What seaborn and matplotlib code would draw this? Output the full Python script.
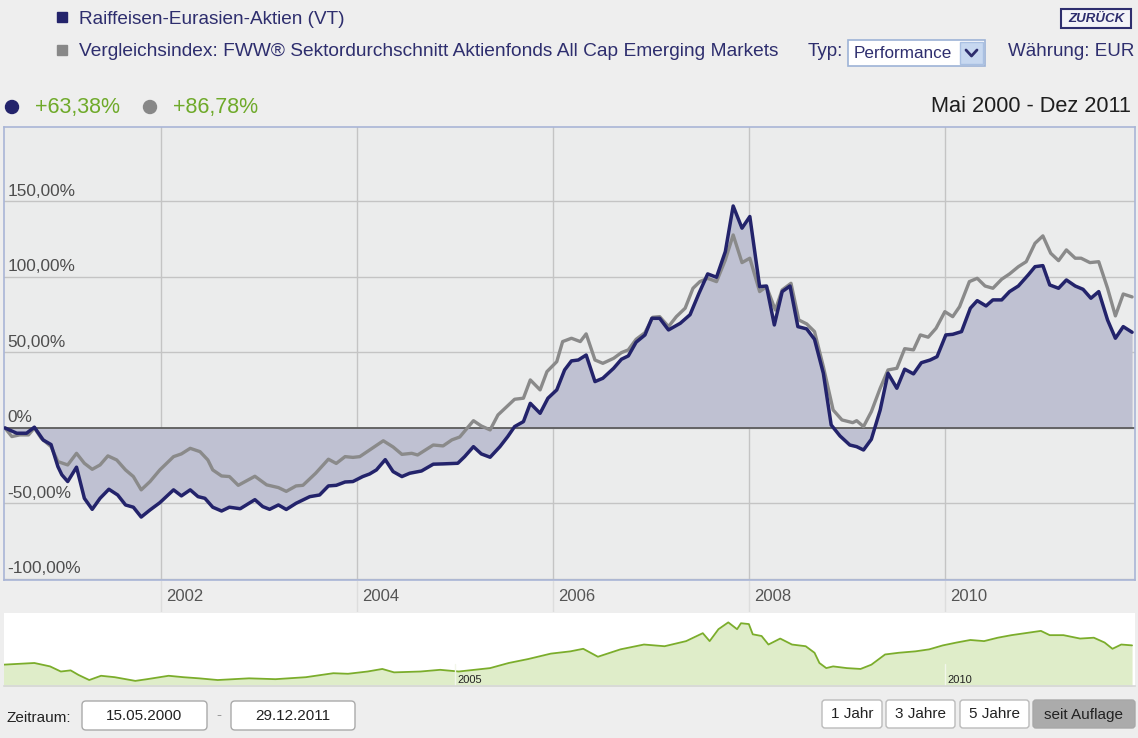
import matplotlib
matplotlib.use('Agg')
import matplotlib.pyplot as plt
import seaborn as sns
import pandas as pd
from matplotlib.patches import Rectangle, Circle, FancyBboxPatch

# fund performance in % since launch (decimal years)
fund_years = [2000.41, 2000.53, 2000.63, 2000.71, 2000.80, 2000.88, 2000.95, 2000.99,
              2001.05, 2001.14, 2001.22, 2001.30, 2001.38, 2001.47, 2001.56, 2001.64, 2001.72, 2001.80, 2001.89, 2001.99,
              2002.13, 2002.21, 2002.30, 2002.38, 2002.45, 2002.53, 2002.62, 2002.70, 2002.81, 2002.96,
              2003.04, 2003.11, 2003.20, 2003.28, 2003.38, 2003.52, 2003.62, 2003.71, 2003.79, 2003.88, 2003.96,
              2004.06, 2004.13, 2004.20, 2004.29, 2004.37, 2004.46, 2004.54, 2004.66, 2004.78, 2004.88,
              2005.03, 2005.10, 2005.19, 2005.27, 2005.36, 2005.46, 2005.54, 2005.61, 2005.70, 2005.77, 2005.87, 2005.95,
              2006.04, 2006.12, 2006.19, 2006.26, 2006.34, 2006.43, 2006.51, 2006.62, 2006.70, 2006.77, 2006.85, 2006.94,
              2007.01, 2007.09, 2007.18, 2007.30, 2007.40, 2007.49, 2007.58, 2007.67, 2007.76, 2007.84, 2007.93,
              2008.01, 2008.11, 2008.18, 2008.26, 2008.34, 2008.42, 2008.50, 2008.59, 2008.67, 2008.76, 2008.84, 2008.93,
              2009.03, 2009.10, 2009.17, 2009.25, 2009.34, 2009.42, 2009.51, 2009.59, 2009.68, 2009.76, 2009.85, 2009.92,
              2010.01, 2010.08, 2010.17, 2010.26, 2010.33, 2010.42, 2010.49, 2010.58, 2010.66, 2010.75, 2010.85, 2010.92,
              2011.00, 2011.07, 2011.16, 2011.24, 2011.33, 2011.41, 2011.49, 2011.57, 2011.66, 2011.74, 2011.82, 2011.91]
fund_perf = [0, -3.5, -3.5, 0.5, -8, -11, -25.6, -31,
             -35.5, -26, -46.6, -53.9, -46.6, -40.6, -44.4, -51, -52.5, -59, -54.3, -49.5,
             -41, -45, -41, -45.5, -46.6, -52.5, -55, -52.5, -53.5, -47.5,
             -52.1, -53.9, -51, -54, -49.9, -45.5, -44.4, -38.4, -38, -35.8, -35.5,
             -32.2, -30.5, -27.8, -21, -28.9, -32.2, -30, -28.5, -24, -23.8,
             -23.4, -19, -12.4, -17.2, -19.4, -12.4, -5.7, 0.9, 4.2, 16.3, 9.7, 19.7,
             25.2, 38.4, 44.4, 45, 48.3, 30.7, 32.9, 39.5, 45.5, 47.7, 56.8, 61.6,
             72.6, 72.6, 64.9, 69.3, 75, 89, 102, 99.8, 116.8, 147, 132.3,
             140, 93.6, 94, 68.2, 90.3, 94, 67.1, 65.6, 58.7, 36.2, 2, -5.3,
             -11.3, -12.4, -14.6, -7.5, 11.9, 36.2, 26.3, 38.9, 35.8, 43.2, 45, 47.2,
             61.6, 62, 63.8, 79.3, 84.3, 80.8, 84.8, 84.8, 90.3, 94, 101.3, 106.8,
             107.5, 94.7, 92.5, 98, 94, 91.8, 85.9, 90.3, 71.5, 59.4, 67.1, 63.38]

# comparison index (sector average)
index_years = [2000.41, 2000.48, 2000.56, 2000.65, 2000.71, 2000.78, 2000.88, 2000.95,
               2001.05, 2001.14, 2001.22, 2001.30, 2001.38, 2001.46, 2001.55, 2001.64, 2001.72, 2001.80, 2001.89, 2001.99,
               2002.13, 2002.21, 2002.30, 2002.40, 2002.48, 2002.53, 2002.62, 2002.70, 2002.79, 2002.96,
               2003.08, 2003.20, 2003.28, 2003.38, 2003.45, 2003.58, 2003.71, 2003.79, 2003.88, 2003.96,
               2004.03, 2004.13, 2004.27, 2004.37, 2004.46, 2004.56, 2004.62, 2004.78, 2004.88, 2004.97,
               2005.05, 2005.19, 2005.27, 2005.36, 2005.44, 2005.53, 2005.61, 2005.70, 2005.77, 2005.87, 2005.94,
               2006.04, 2006.10, 2006.19, 2006.28, 2006.34, 2006.43, 2006.51, 2006.62, 2006.70, 2006.77, 2006.85, 2006.94,
               2007.02, 2007.09, 2007.18, 2007.26, 2007.35, 2007.43, 2007.50, 2007.58, 2007.67, 2007.76, 2007.84, 2007.93,
               2008.01, 2008.11, 2008.18, 2008.27, 2008.34, 2008.43, 2008.51, 2008.59, 2008.67, 2008.76, 2008.86, 2008.95,
               2009.06, 2009.10, 2009.17, 2009.25, 2009.34, 2009.42, 2009.51, 2009.59, 2009.68, 2009.75, 2009.83, 2009.91,
               2010.00, 2010.08, 2010.15, 2010.25, 2010.33, 2010.41, 2010.49, 2010.58, 2010.66, 2010.75, 2010.83, 2010.92,
               2011.00, 2011.08, 2011.16, 2011.24, 2011.33, 2011.39, 2011.48, 2011.57, 2011.66, 2011.74, 2011.82, 2011.91]
index_perf = [0, -5.7, -4.6, -4.6, 0, -6.8, -12.4, -22.3,
              -24.5, -16.8, -23.4, -27.4, -24.5, -18.5, -21.2, -27.8, -32.2, -41, -35.5, -27.8,
              -19, -17.2, -13.5, -15.7, -21.2, -27.8, -31.8, -32.2, -38, -32,
              -37.7, -39.5, -42, -38.4, -38, -30, -20.7, -23.5, -19, -19.5,
              -19, -14.6, -8.5, -12.6, -17.5, -16.8, -17.9, -11.3, -11.9, -7.9,
              -6, 4.8, 1.3, -1.3, 8.6, 14.1, 19, 19.7, 31.8, 25.2, 37.3,
              43.9, 57.2, 59.4, 57.2, 62.3, 45, 42.8, 46.1, 49.9, 51.7, 58.7, 63.1,
              73.3, 73.7, 67.1, 73.7, 79.3, 92.5, 96.9, 99.1, 96.9, 111.3, 127.8, 109.5,
              112.4, 90.3, 93.6, 78.1, 91.4, 95.8, 71.5, 68.9, 63.8, 40.6, 11.9, 5.3,
              3.5, 4.8, 0.9, 10.8, 26.3, 38.4, 39.5, 52.5, 51.7, 61.6, 60.1, 66,
              77, 73.7, 80.3, 96.9, 99.1, 94, 92.5, 98.5, 102, 106.8, 110.1, 122.3,
              127.2, 115.7, 110.8, 117.9, 112.4, 112.4, 109.5, 110.1, 92.5, 74.2, 88.7, 86.78]

# navigator (overview) series
nav_years = [2000.39, 2000.71, 2000.87, 2000.98, 2001.08, 2001.16, 2001.27, 2001.39, 2001.53, 2001.74, 2001.86,
             2002.08, 2002.23, 2002.39, 2002.58, 2002.90, 2003.17, 2003.48, 2003.76, 2003.91,
             2004.11, 2004.26, 2004.38, 2004.65, 2004.85, 2005.04, 2005.36, 2005.55, 2005.75, 2005.98,
             2006.18, 2006.31, 2006.46, 2006.69, 2006.93, 2007.14, 2007.36, 2007.53, 2007.60, 2007.69,
             2007.79, 2007.88, 2007.92, 2008.00, 2008.04, 2008.13, 2008.20, 2008.32, 2008.44, 2008.58,
             2008.67, 2008.72, 2008.79, 2008.86, 2009.00, 2009.14, 2009.25, 2009.39, 2009.53, 2009.70,
             2009.84, 2009.98, 2010.12, 2010.26, 2010.40, 2010.54, 2010.68, 2010.86, 2010.98, 2011.07,
             2011.21, 2011.38, 2011.52, 2011.63, 2011.71, 2011.80, 2011.91]
nav_perf = [0, 6, -6, -24, -20, -36, -54, -39, -44, -57, -51,
            -39, -44, -48, -54, -48, -51, -44, -30, -32,
            -24, -15, -27, -24, -18, -24, -12, 6, 20, 39,
            47, 56, 28, 54, 71, 65, 83, 111, 83, 125,
            149, 125, 146, 143, 107, 101, 71, 92, 71, 65,
            42, 6, -12, -6, -12, -15, 0, 36, 42, 47,
            54, 68, 78, 87, 83, 95, 104, 113, 119, 104,
            104, 92, 95, 78, 56, 71, 68]

year_ticks = [2002, 2004, 2006, 2008, 2010]
nav_ticks = [2005, 2010]
perf_ticks = [-100, -50, 0, 50, 100, 150]
perf_labels = ['-100,00%', '-50,00%', '0%', '50,00%', '100,00%', '150,00%']

fund_name = 'Raiffeisen-Eurasien-Aktien (VT)'
index_name = 'Vergleichsindex: FWW® Sektordurchschnitt Aktienfonds All Cap Emerging Markets'
fund_total = '+63,38%'
index_total = '+86,78%'
period = 'Mai 2000 - Dez 2011'
date_from = '15.05.2000'
date_to = '29.12.2011'
buttons = ['1 Jahr', '3 Jahre', '5 Jahre', 'seit Auflage']

NAVY = '#23236B'
GREY = '#8A8A8A'
FILL = '#BFC1D2'
GREEN = '#6FAA2A'
TXT = '#2E2E6E'
PAGE = '#EEEEEE'

sns.set_theme(style='white')
plt.rcParams['font.family'] = ['Liberation Sans', 'DejaVu Sans']

W, H = 1138, 738
fig = plt.figure(figsize=(W / 100, H / 100), dpi=100)
fig.patch.set_facecolor(PAGE)


def px_box(x0, y0, x1, y1):
    return [x0 / W, 1 - y1 / H, (x1 - x0) / W, (y1 - y0) / H]


fund = pd.DataFrame({'year': fund_years, 'perf': fund_perf})
index = pd.DataFrame({'year': index_years, 'perf': index_perf})
nav = pd.DataFrame({'year': nav_years, 'perf': nav_perf})
xlim = (2000.40, 2011.94)

# main chart
ax = fig.add_axes(px_box(4, 127, 1135, 580))
ax.set_facecolor('#EBECEC')
ax.fill_between(fund['year'], fund['perf'], 0, color=FILL, lw=0, zorder=1)
sns.lineplot(data=index, x='year', y='perf', color=GREY, lw=2.4, ax=ax, zorder=3)
sns.lineplot(data=fund, x='year', y='perf', color=NAVY, lw=2.5, ax=ax, zorder=4)
ax.axhline(0, color='#5C5C5C', lw=1.3, zorder=2)
ax.set_xlim(*xlim)
ax.set_ylim(-100.7, 199.3)
ax.set_xticks(year_ticks)
ax.set_yticks(perf_ticks)
ax.grid(True, color='#C4C4C4', lw=1)
ax.set_axisbelow(True)
ax.tick_params(length=0, labelleft=False, labelbottom=False)
ax.set_xlabel('')
ax.set_ylabel('')
for s in ax.spines.values():
    s.set_color('#A9B5D6')
    s.set_linewidth(1.2)
for v, lab in zip(perf_ticks, perf_labels):
    ax.annotate(lab, xy=(0.003, v), xycoords=ax.get_yaxis_transform(),
                xytext=(0, 2), textcoords='offset points',
                ha='left', va='bottom', fontsize=12.4, color='#4E4E4E')

# year label strip
ax_s = fig.add_axes(px_box(4, 581, 1135, 612))
ax_s.set_facecolor('white')
ax_s.set_xlim(*xlim)
ax_s.set_ylim(0, 1)
for yr in year_ticks:
    ax_s.axvline(yr, color='#DDDDDD', lw=1)
    ax_s.annotate(str(yr), xy=(yr, 0.5), xytext=(4, 0), textcoords='offset points',
                  ha='left', va='center', fontsize=12, color='#555555')
ax_s.axis('off')

# navigator
ax_n = fig.add_axes(px_box(4, 613, 1135, 686))
ax_n.set_facecolor('white')
ax_n.fill_between(nav['year'], nav['perf'], -80, color='#DFEDC9', lw=0)
sns.lineplot(data=nav, x='year', y='perf', color='#7BAD2B', lw=1.3, ax=ax_n)
for yr in nav_ticks:
    ax_n.axvline(yr, ymax=0.3, color='#F2F6EA', lw=1)
    ax_n.annotate(str(yr), xy=(yr, -70), xytext=(2, 0), textcoords='offset points',
                  ha='left', va='bottom', fontsize=8, color='#222222')
ax_n.set_xlim(*xlim)
ax_n.set_ylim(-75, 182)
ax_n.set_xticks([])
ax_n.set_yticks([])
ax_n.set_xlabel('')
ax_n.set_ylabel('')
for k, s in ax_n.spines.items():
    s.set_visible(k == 'bottom')
ax_n.spines['bottom'].set_color('#D8D8D8')

# page widgets in pixel coordinates
ui = fig.add_axes([0, 0, 1, 1], zorder=10)
ui.set_xlim(0, W)
ui.set_ylim(H, 0)
ui.axis('off')
ui.patch.set_alpha(0)

ui.add_patch(Rectangle((57, 12), 10, 10, color=NAVY))
ui.add_patch(Rectangle((57, 45), 10, 10, color='#888888'))
ui.text(79, 20, fund_name, fontsize=13.7, color=TXT, va='center')
ui.text(79, 52, index_name, fontsize=13.8, color=TXT, va='center')

ui.add_patch(Rectangle((1061, 9), 70, 19, facecolor='#F3F3F7', edgecolor=TXT, lw=1.5))
ui.text(1096, 18.5, 'ZURÜCK', fontsize=9.5, color=TXT, fontweight='bold', fontstyle='italic',
        ha='center', va='center')

ui.text(808, 52, 'Typ:', fontsize=13.5, color=TXT, va='center')
ui.add_patch(Rectangle((848, 40), 137, 26, facecolor='white', edgecolor='#9DB3D6', lw=1.2))
ui.text(854, 53, 'Performance', fontsize=12.3, color=TXT, va='center')
ui.add_patch(Rectangle((960, 42), 23, 22, facecolor='#C7D8F0', edgecolor='#A9C0E2', lw=1))
ui.plot([966, 971.5, 977], [50, 56, 50], color=TXT, lw=2)
ui.text(1008, 52, 'Währung: EUR', fontsize=13.5, color=TXT, va='center')

ui.add_patch(Circle((12, 107), 6.5, color=NAVY))
ui.text(35, 107, fund_total, fontsize=15.5, color=GREEN, va='center')
ui.add_patch(Circle((150, 107), 6.5, color='#888888'))
ui.text(173, 107, index_total, fontsize=15.5, color=GREEN, va='center')
ui.text(1131, 107, period, fontsize=15.7, color='#1E1E1E', va='center', ha='right')

ui.text(7, 718, 'Zeitraum:', fontsize=11, color='#222222', va='center')
for x0, x1, lab in [(82, 207, date_from), (231, 355, date_to)]:
    ui.add_patch(FancyBboxPatch((x0, 701), x1 - x0, 29, boxstyle='round,pad=0,rounding_size=4',
                                facecolor='white', edgecolor='#AAAAAA', lw=1))
    ui.text((x0 + x1) / 2, 716, lab, fontsize=11, color='#222222', ha='center', va='center')
ui.text(219, 715, '-', fontsize=11, color='#999999', ha='center', va='center')

btn_x = [(822, 882), (886, 955), (960, 1029), (1033, 1135)]
for (x0, x1), lab in zip(btn_x, buttons):
    last = lab == buttons[-1]
    ui.add_patch(FancyBboxPatch((x0, 700), x1 - x0, 28, boxstyle='round,pad=0,rounding_size=3',
                                facecolor='#ABABAB' if last else 'white',
                                edgecolor='#A8A8A8' if last else '#BBBBBB', lw=1))
    ui.text((x0 + x1) / 2, 714.5, lab, fontsize=11, color='#222222', ha='center', va='center')

fig.savefig('out.png', dpi=100, facecolor=fig.get_facecolor())
